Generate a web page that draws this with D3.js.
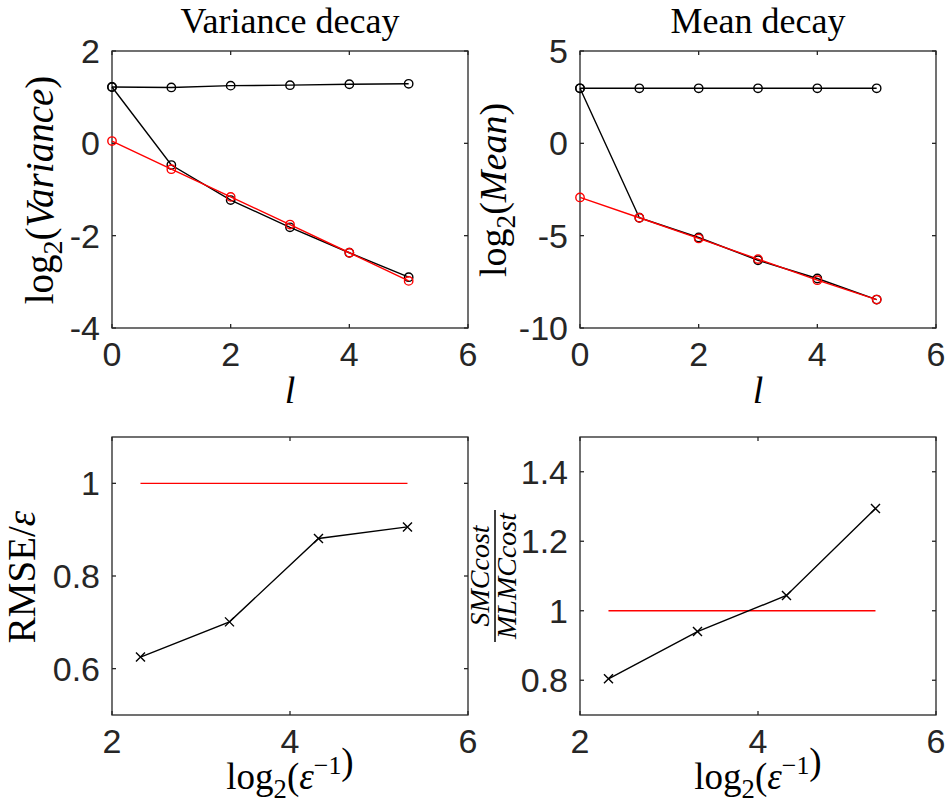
<!DOCTYPE html>
<html>
<head>
<meta charset="utf-8">
<script src="https://cdn.jsdelivr.net/npm/d3@7"></script>
<style>
  body { margin: 0; background: #fff; }
  svg { display: block; }
  .tick-label { font-family: "Liberation Sans", Arial, sans-serif; font-size: 34px; fill: #262626; }
  .tex { font-family: "Liberation Serif", "Times New Roman", serif; fill: #000; }
</style>
</head>
<body>
<svg id="chart" width="949" height="805"></svg>
<script>
// levels and estimated log2 values (top row)
const levels = [0, 1, 2, 3, 4, 5];
const varFine = [1.22, 1.21, 1.25, 1.26, 1.28, 1.29];
const varDiff = [1.22, -0.47, -1.23, -1.82, -2.37, -2.90];
const varFit = [0.05, -0.56, -1.16, -1.76, -2.37, -2.98];
const meanFine = [2.98, 2.98, 2.98, 2.98, 2.98, 2.98];
const meanDiff = [2.98, -4.03, -5.10, -6.33, -7.32, -8.46];
const meanFit = [-2.93, -4.03, -5.15, -6.27, -7.41, -8.46];

// accuracy sweep (bottom row)
const epsLog = [2.32, 3.32, 4.32, 5.32];
const rmseRatio = [0.625, 0.701, 0.881, 0.906];
const costRatio = [0.804, 0.940, 1.044, 1.294];
const reference = [1, 1, 1, 1];

const xTicksTop = [0, 2, 4, 6];
const xTicksBottom = [2, 4, 6];

const svg = d3.select("#chart");
const AXIS = "#262626";

function panel({left, right, top, bottom, xDomain, yDomain, xTicks, yTicks}) {
  const x = d3.scaleLinear().domain(xDomain).range([left, right]);
  const y = d3.scaleLinear().domain(yDomain).range([bottom, top]);
  const g = svg.append("g");

  // box
  g.append("rect")
    .attr("x", left).attr("y", top)
    .attr("width", right - left).attr("height", bottom - top)
    .attr("fill", "none").attr("stroke", AXIS).attr("stroke-width", 1.3);

  // inward ticks on all four sides
  const tl = 4;
  xTicks.forEach(t => {
    g.append("line").attr("x1", x(t)).attr("x2", x(t)).attr("y1", bottom).attr("y2", bottom - tl)
      .attr("stroke", AXIS).attr("stroke-width", 1.3);
    g.append("line").attr("x1", x(t)).attr("x2", x(t)).attr("y1", top).attr("y2", top + tl)
      .attr("stroke", AXIS).attr("stroke-width", 1.3);
    g.append("text").attr("class", "tick-label")
      .attr("x", x(t)).attr("y", bottom + 38)
      .attr("text-anchor", "middle")
      .text(t);
  });
  yTicks.forEach(t => {
    g.append("line").attr("x1", left).attr("x2", left + tl).attr("y1", y(t)).attr("y2", y(t))
      .attr("stroke", AXIS).attr("stroke-width", 1.3);
    g.append("line").attr("x1", right).attr("x2", right - tl).attr("y1", y(t)).attr("y2", y(t))
      .attr("stroke", AXIS).attr("stroke-width", 1.3);
    g.append("text").attr("class", "tick-label")
      .attr("x", left - 12).attr("y", y(t) + 12)
      .attr("text-anchor", "end")
      .text(t);
  });
  return {g, x, y};
}

function series(p, xs, ys, color, marker) {
  const pts = xs.map((v, i) => [p.x(v), p.y(ys[i])]);
  p.g.append("path")
    .attr("d", d3.line()(pts))
    .attr("fill", "none").attr("stroke", color).attr("stroke-width", 1.4);
  if (marker === "o") {
    p.g.selectAll(null).data(pts).enter().append("circle")
      .attr("cx", d => d[0]).attr("cy", d => d[1]).attr("r", 4.2)
      .attr("fill", "none").attr("stroke", color).attr("stroke-width", 1.4);
  } else if (marker === "x") {
    const s = 4.5;
    p.g.selectAll(null).data(pts).enter().append("path")
      .attr("d", d => `M${d[0]-s},${d[1]-s}L${d[0]+s},${d[1]+s}M${d[0]-s},${d[1]+s}L${d[0]+s},${d[1]-s}`)
      .attr("fill", "none").attr("stroke", color).attr("stroke-width", 1.4);
  }
}

function logLabel(sel, inner) {
  sel.append("tspan").text("log");
  sel.append("tspan").attr("font-size", "0.72em").attr("dy", 9).text("2");
  sel.append("tspan").attr("dy", -9).text("(");
  inner(sel);
  sel.append("tspan").text(")");
}

// === Variance decay ===
const p1 = panel({left: 112, right: 468, top: 51, bottom: 328,
  xDomain: [0, 6], yDomain: [-4, 2], xTicks: xTicksTop, yTicks: [-4, -2, 0, 2]});
series(p1, levels, varFine, "#000", "o");
series(p1, levels, varDiff, "#000", "o");
series(p1, levels, varFit, "#ff0000", "o");

// === Mean decay ===
const p2 = panel({left: 580, right: 936, top: 51, bottom: 328,
  xDomain: [0, 6], yDomain: [-10, 5], xTicks: xTicksTop, yTicks: [-10, -5, 0, 5]});
series(p2, levels, meanFine, "#000", "o");
series(p2, levels, meanDiff, "#000", "o");
series(p2, levels, meanFit, "#ff0000", "o");

// === RMSE / eps ===
const p3 = panel({left: 112, right: 468, top: 437, bottom: 715,
  xDomain: [2, 6], yDomain: [0.5, 1.1], xTicks: xTicksBottom, yTicks: [0.6, 0.8, 1]});
series(p3, epsLog, reference, "#ff0000", null);
series(p3, epsLog, rmseRatio, "#000", "x");

// === cost ratio ===
const p4 = panel({left: 580, right: 936, top: 437, bottom: 715,
  xDomain: [2, 6], yDomain: [0.7, 1.5], xTicks: xTicksBottom, yTicks: [0.8, 1, 1.2, 1.4]});
series(p4, epsLog, reference, "#ff0000", null);
series(p4, epsLog, costRatio, "#000", "x");

// titles
svg.append("text").attr("class", "tex").attr("x", 290).attr("y", 33)
  .attr("text-anchor", "middle").attr("font-size", 36).text("Variance decay");
svg.append("text").attr("class", "tex").attr("x", 758).attr("y", 33)
  .attr("text-anchor", "middle").attr("font-size", 36).text("Mean decay");

// x labels
[290, 758].forEach(cx => {
  svg.append("text").attr("class", "tex").attr("x", cx).attr("y", 403)
    .attr("text-anchor", "middle").attr("font-size", 38).attr("font-style", "italic").text("l");
  const t = svg.append("text").attr("class", "tex").attr("x", cx).attr("y", 789)
    .attr("text-anchor", "middle").attr("font-size", 37);
  logLabel(t, s => {
    s.append("tspan").attr("font-style", "italic").text("ε");
    s.append("tspan").attr("font-size", "0.7em").attr("dy", -15).text("−1");
    s.append("tspan").attr("dy", 15).text("");
  });
});

// y labels
const yl1 = svg.append("text").attr("class", "tex")
  .attr("transform", "translate(53,190) rotate(-90)")
  .attr("text-anchor", "middle").attr("font-size", 39);
logLabel(yl1, s => s.append("tspan").attr("font-style", "italic").text("Variance"));

const yl2 = svg.append("text").attr("class", "tex")
  .attr("transform", "translate(506,190) rotate(-90)")
  .attr("text-anchor", "middle").attr("font-size", 38);
logLabel(yl2, s => s.append("tspan").attr("font-style", "italic").text("Mean"));

const yl3 = svg.append("text").attr("class", "tex")
  .attr("transform", "translate(35,577) rotate(-90)")
  .attr("text-anchor", "middle").attr("font-size", 39);
yl3.append("tspan").text("RMSE/");
yl3.append("tspan").attr("font-style", "italic").text("ε");

const frac = svg.append("g").attr("transform", "translate(495,576) rotate(-90)");
frac.append("line").attr("x1", -66).attr("x2", 66).attr("y1", 0).attr("y2", 0)
  .attr("stroke", "#000").attr("stroke-width", 1.5);
frac.append("text").attr("class", "tex").attr("x", 0).attr("y", -6)
  .attr("text-anchor", "middle").attr("font-size", 28).attr("font-style", "italic").text("SMCcost");
frac.append("text").attr("class", "tex").attr("x", 0).attr("y", 21)
  .attr("text-anchor", "middle").attr("font-size", 28).attr("font-style", "italic").text("MLMCcost");
</script>
</body>
</html>
